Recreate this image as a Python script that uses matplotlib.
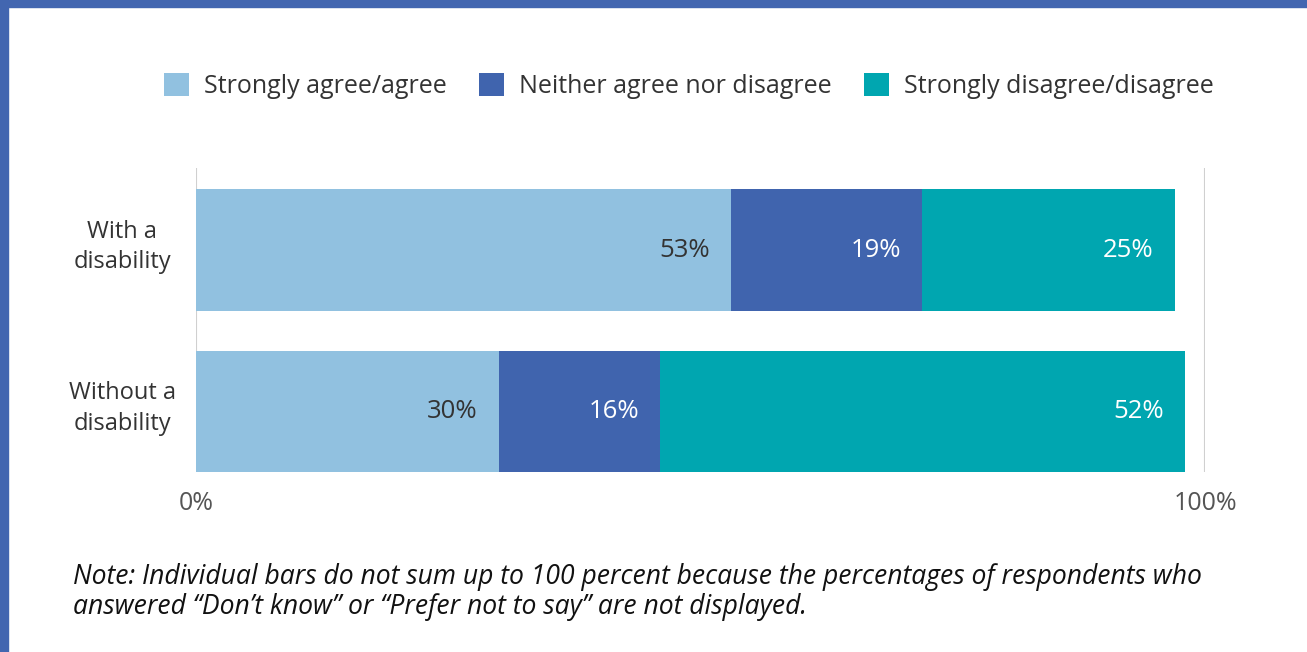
import matplotlib.pyplot as plt
from matplotlib.patches import Patch, Rectangle

groups = ['With a\ndisability', 'Without a\ndisability']
series = ['Strongly agree/agree', 'Neither agree nor disagree',
          'Strongly disagree/disagree']
agree = [53, 30]
neither = [19, 16]
disagree = [25, 52]
colors = ['#91c1e0', '#4064ae', '#00a6b0']
label_colors = ['#333333', 'white', 'white']

plt.rcParams['font.family'] = ['Open Sans', 'DejaVu Sans']

fig = plt.figure(figsize=(13.07, 6.52), dpi=100)
W, H = 1307, 652
ax = fig.add_axes([196 / W, 1 - 472 / H, 1009 / W, 304 / H])

# blue frame on top and left
fig.patches.append(Rectangle((0, 1 - 7 / H), 1, 7 / H, transform=fig.transFigure,
                             color='#4266b0', zorder=0))
fig.patches.append(Rectangle((0, 0), 8 / W, 1, transform=fig.transFigure,
                             color='#4266b0', zorder=0))

ypos = [0, 1]
left = [0, 0]
for vals, c, tc in zip([agree, neither, disagree], colors, label_colors):
    ax.barh(ypos, vals, left=left, height=0.755, color=c, zorder=2)
    for y, l, v in zip(ypos, left, vals):
        ax.annotate(f'{v}%', xy=(l + v, y), xytext=(-21, 0),
                    textcoords='offset pixels',
                    ha='right', va='center', fontsize=18.5, color=tc, zorder=3)
    left = [a + b for a, b in zip(left, vals)]

ax.set_xlim(0, 100)
ax.set_ylim(1.375, -0.508)
ax.set_xticks([0, 100])
ax.set_xticklabels(['0%', '100%'], fontsize=18, color='#555555')
ax.set_yticks([])
# group labels, centred left of the bars and sitting slightly high
for y, g in zip(ypos, groups):
    ax.annotate(g, xy=(0, y), xytext=(-74, 3), textcoords='offset pixels',
                ha='center', va='center', multialignment='center',
                fontsize=17, color='#333333', linespacing=1.35,
                annotation_clip=False)
ax.tick_params(axis='x', length=0, pad=14)
for s in ax.spines.values():
    s.set_visible(False)
for x in [0, 100]:
    ax.axvline(x, color='#d0d0d0', lw=1.5, zorder=1)

handles = [Patch(facecolor=c, edgecolor='none') for c in colors]
fig.legend(handles, series, loc='center', bbox_to_anchor=(689 / W, 1 - 86 / H),
           ncol=3, frameon=False, fontsize=18, handlelength=1.0,
           handleheight=1.0, handletextpad=0.6, columnspacing=1.3,
           labelcolor='#333333')

fig.text(73 / W, 1 - 577 / H,
         'Note: Individual bars do not sum up to 100 percent because the percentages of respondents who',
         fontsize=19.1, style='italic', color='#111111', va='center')
fig.text(73 / W, 1 - 607 / H,
         'answered \u201cDon\u2019t know\u201d or \u201cPrefer not to say\u201d are not displayed.',
         fontsize=19.1, style='italic', color='#111111', va='center')

fig.savefig('out.png', dpi=100)
